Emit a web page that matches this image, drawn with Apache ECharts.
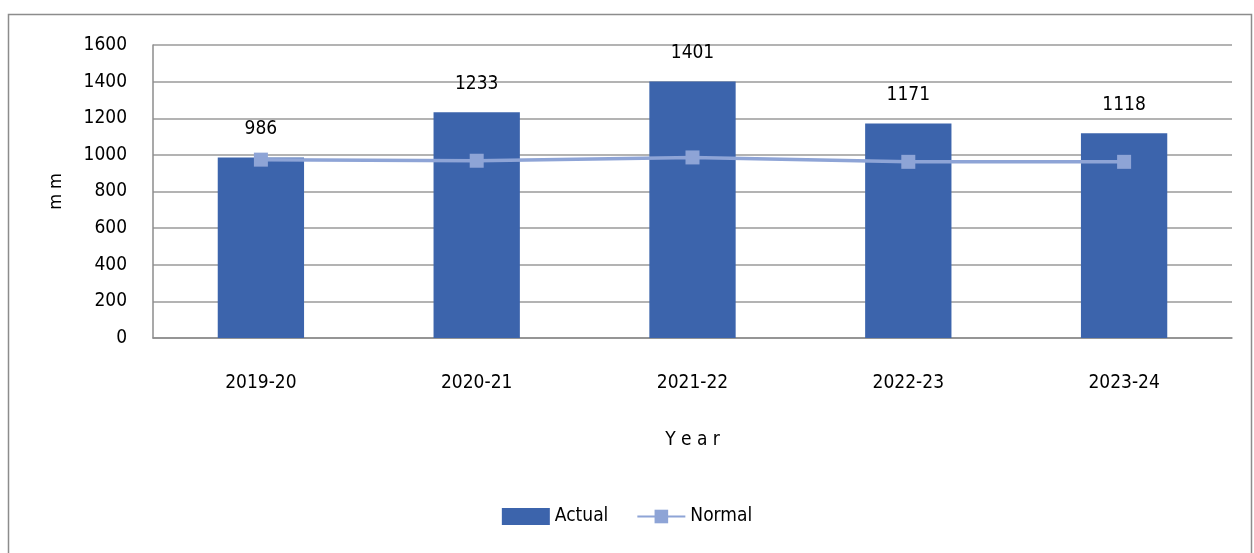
<!DOCTYPE html>
<html><head><meta charset="utf-8">
<script src="https://cdn.jsdelivr.net/npm/echarts@6/dist/echarts.min.js"></script>
<style>html,body{margin:0;padding:0;background:#fff}#c{width:1254px;height:553px}</style>
</head><body><div id="c"></div>
<script>
const categories = ['2019-20','2020-21','2021-22','2022-23','2023-24'];
const actual = [986,1233,1401,1171,1118];
const normal = [974,968,986,962,962];
const yTicks = [0,200,400,600,800,1000,1200,1400,1600];

const F = '"Liberation Sans Narrow","DejaVu Sans Condensed",sans-serif';
const chart = echarts.init(document.getElementById('c'));
chart.setOption({
  animation:false,
  graphic:[{type:'rect',shape:{x:8.5,y:14.5,width:1243,height:560},style:{fill:'none',stroke:'#8c8c8c',lineWidth:1.5}}],
  grid:{left:153,right:22,top:45,bottom:215,containLabel:false},
  legend:{bottom:22,left:'center',itemGap:28,itemWidth:48,itemHeight:17,
    textStyle:{fontFamily:F,fontSize:19,color:'#000'},
    data:[{name:'Actual',icon:'rect'},{name:'Normal'}]},
  xAxis:{type:'category',data:categories,name:'Y e a r',nameLocation:'middle',nameGap:93,
    nameTextStyle:{fontFamily:F,fontSize:19,color:'#000'},
    axisLine:{lineStyle:{color:'#8c8c8c',width:1.5}},axisTick:{show:false},
    axisLabel:{fontFamily:F,fontSize:19,color:'#000',margin:36}},
  yAxis:{type:'value',min:0,max:1600,interval:200,name:'m m',nameLocation:'middle',nameGap:88,nameRotate:90,
    nameTextStyle:{fontFamily:F,fontSize:18,color:'#000'},
    axisLine:{show:true,lineStyle:{color:'#8c8c8c',width:1.5}},axisTick:{show:false},
    axisLabel:{fontFamily:F,fontSize:19,color:'#000',margin:26,formatter:v=>yTicks.includes(v)?String(v):''},
    splitLine:{lineStyle:{color:'#9a9a9a',width:1.5}}},
  series:[
    {name:'Actual',type:'bar',data:actual,barWidth:'40%',itemStyle:{color:'#3C64AC'},
     label:{show:true,position:'top',distance:19,fontFamily:F,fontSize:19,color:'#000'}},
    {name:'Normal',type:'line',data:normal,symbol:'rect',symbolSize:14,
     lineStyle:{color:'#8EA4D6',width:3.5},itemStyle:{color:'#8EA4D6'}}
  ]
});
</script></body></html>
